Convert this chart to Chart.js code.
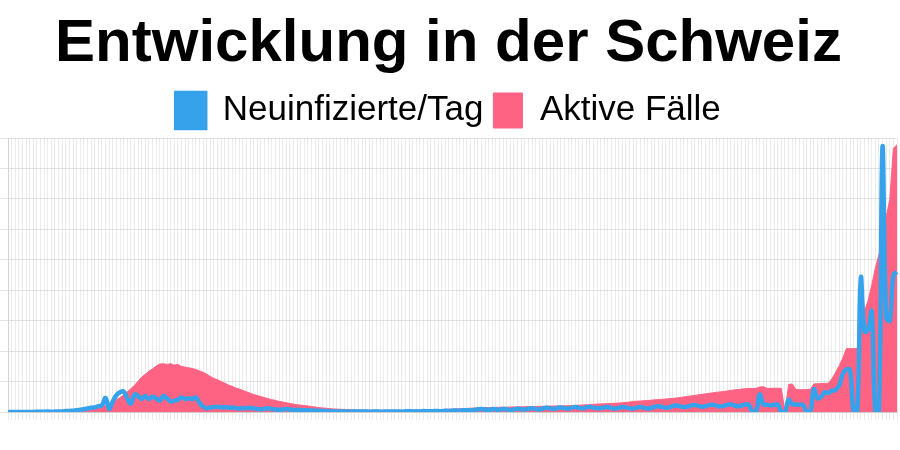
<!DOCTYPE html>
<html>
<head>
<meta charset="utf-8">
<script src="https://cdn.jsdelivr.net/npm/chart.js@4.4.1/dist/chart.umd.min.js"></script>
<style>
  body { margin: 0; background: #fff; }
  #wrap { width: 900px; height: 450px; position: relative; }
</style>
</head>
<body>
<div id="wrap"><canvas id="chart"></canvas></div>
<script>
// Schweiz, täglich ab 25.02.2020
const startDate = '2020-02-25';
const dayCount = 247;

const seriesNames = ['Neuinfizierte/Tag', 'Aktive Fälle'];

const neuinfizierte = [
  0, 0, 1, 0, 5, 3, 8, 6, 12, 10,
  20, 25, 15, 30, 40, 35, 60, 70, 90, 110,
  150, 180, 230, 280, 300, 380, 450, 920, 200, 700,
  1100, 1300, 1350, 900, 550, 1150, 1050, 850, 1050, 850,
  1000, 900, 750, 1050, 900, 700, 750, 800, 950, 850,
  900, 850, 950, 600, 350, 250, 300, 320, 350, 300,
  330, 280, 300, 260, 230, 260, 240, 280, 230, 200,
  180, 220, 240, 200, 170, 150, 170, 200, 160, 130,
  150, 130, 120, 110, 100, 90, 80, 70, 60, 50,
  40, 35, 30, 25, 30, 20, 35, 30, 25, 40,
  20, 30, 35, 20, 25, 30, 40, 30, 35, 20,
  40, 50, 35, 45, 30, 60, 50, 45, 70, 60,
  55, 80, 70, 90, 100, 80, 110, 120, 100, 130,
  180, 200, 160, 140, 190, 170, 150, 200, 180, 130,
  170, 220, 190, 160, 210, 250, 200, 170, 230, 280,
  240, 200, 260, 300, 250, 220, 280, 330, 270, 230,
  300, 350, 280, 250, 260, 300, 330, 250, 220, 280,
  320, 300, 250, 220, 300, 330, 280, 230, 260, 350,
  380, 330, 280, 300, 400, 420, 380, 320, 350, 430,
  460, 400, 350, 380, 450, 480, 420, 360, 400, 470,
  500, 430, 380, 420, 500, 460, 0, 0, 1150, 500,
  480, 450, 470, 480, 0, 0, 800, 520, 500, 480,
  460, 0, 0, 1500, 900, 1000, 1300, 1250, 1400, 1450,
  1750, 2500, 2800, 2750, 0, 0, 8800, 5300, 5400, 6600,
  0, 0, 17440, 6200, 6000, 9000, 9200
];

const aktiveFaelle = [
  0, 0, 0, 5, 10, 15, 20, 30, 40, 60,
  80, 100, 130, 170, 200, 250, 300, 350, 400, 450,
  500, 600, 700, 900, 1100, 1300, 1600, 1900, 2300, 3000,
  3600, 4200, 5000, 5900, 6800, 7800, 9000, 10200, 11000, 11900,
  12600, 13400, 14000, 14100, 13900, 14100, 13700, 13900, 13300, 13100,
  12900, 12700, 12400, 12000, 11600, 11000, 10400, 9800, 9400, 8900,
  8400, 7900, 7500, 7000, 6700, 6300, 5900, 5500, 5100, 4800,
  4500, 4200, 3900, 3600, 3400, 3100, 2900, 2700, 2500, 2300,
  2100, 2000, 1900, 1750, 1600, 1450, 1300, 1200, 1100, 1000,
  900, 850, 800, 750, 700, 650, 600, 580, 560, 540,
  520, 500, 500, 480, 470, 470, 460, 460, 450, 460,
  470, 480, 500, 520, 540, 560, 580, 600, 640, 680,
  720, 760, 800, 850, 900, 950, 1000, 1050, 1100, 1150,
  1200, 1250, 1280, 1300, 1330, 1350, 1380, 1400, 1420, 1450,
  1480, 1500, 1520, 1550, 1580, 1600, 1620, 1650, 1680, 1700,
  1720, 1750, 1780, 1800, 1820, 1850, 1900, 1950, 2000, 2050,
  2100, 2150, 2250, 2300, 2350, 2400, 2450, 2500, 2550, 2600,
  2700, 2800, 2900, 3100, 3150, 3200, 3300, 3350, 3450, 3550,
  3650, 3700, 3800, 3900, 4000, 4100, 4250, 4400, 4550, 4700,
  4850, 5000, 5150, 5300, 5450, 5600, 5750, 5850, 6000, 6150,
  6300, 6450, 6550, 6700, 6800, 6900, 6850, 6900, 7300, 7400,
  6900, 6900, 6950, 6950, 6900, 0, 8000, 8200, 6600, 6500,
  6500, 6550, 6600, 8200, 8250, 8300, 8350, 8400, 9700, 11500,
  13500, 15800, 18500, 18500, 18500, 18600, 25600, 29500, 32500, 37000,
  42000, 46000, 50000, 57000, 62000, 77000, 78000
];

const labels = [];
const d0 = new Date(startDate + 'T00:00:00Z');
for (let i = 0; i < dayCount; i++) {
  const d = new Date(d0.getTime() + i * 86400000);
  labels.push(d.toISOString().slice(0, 10));
}

Chart.defaults.font.family = '"Liberation Sans", Arial, sans-serif';
Chart.defaults.color = '#000';

new Chart(document.getElementById('chart'), {
  type: 'line',
  data: {
    labels: labels,
    datasets: [{
      label: seriesNames[0],
      data: neuinfizierte,
      yAxisID: 'y',
      borderColor: 'rgb(54, 162, 235)',
      backgroundColor: 'rgb(54, 162, 235)',
      borderWidth: 4.5,
      pointRadius: 0,
      tension: 0.4,
      fill: false,
      order: 0
    }, {
      label: seriesNames[1],
      data: aktiveFaelle,
      yAxisID: 'y1',
      borderColor: 'rgb(255, 99, 132)',
      backgroundColor: 'rgb(255, 99, 132)',
      borderWidth: 1,
      pointRadius: 0,
      tension: 0,
      fill: 'origin',
      order: 1
    }]
  },
  options: {
    responsive: true,
    maintainAspectRatio: false,
    animation: false,
    layout: { padding: { left: 0, right: 3, top: 0, bottom: 30 } },
    plugins: {
      title: {
        display: true,
        text: 'Entwicklung in der Schweiz',
        font: { size: 60, weight: 'bold' },
        padding: { top: 8, bottom: 3 }
      },
      legend: {
        labels: {
          font: { size: 35 },
          boxWidth: 29,
          boxHeight: 35,
          padding: 10
        }
      },
      tooltip: { enabled: false }
    },
    scales: {
      x: {
        ticks: { display: false },
        grid: { color: 'rgba(0,0,0,0.08)' }
      },
      y: {
        position: 'left',
        min: 0,
        max: 18000,
        ticks: { display: false, stepSize: 2000 },
        grid: { color: 'rgba(0,0,0,0.1)' }
      },
      y1: {
        display: false,
        min: 0,
        max: 80000
      }
    }
  }
});
</script>
</body>
</html>
